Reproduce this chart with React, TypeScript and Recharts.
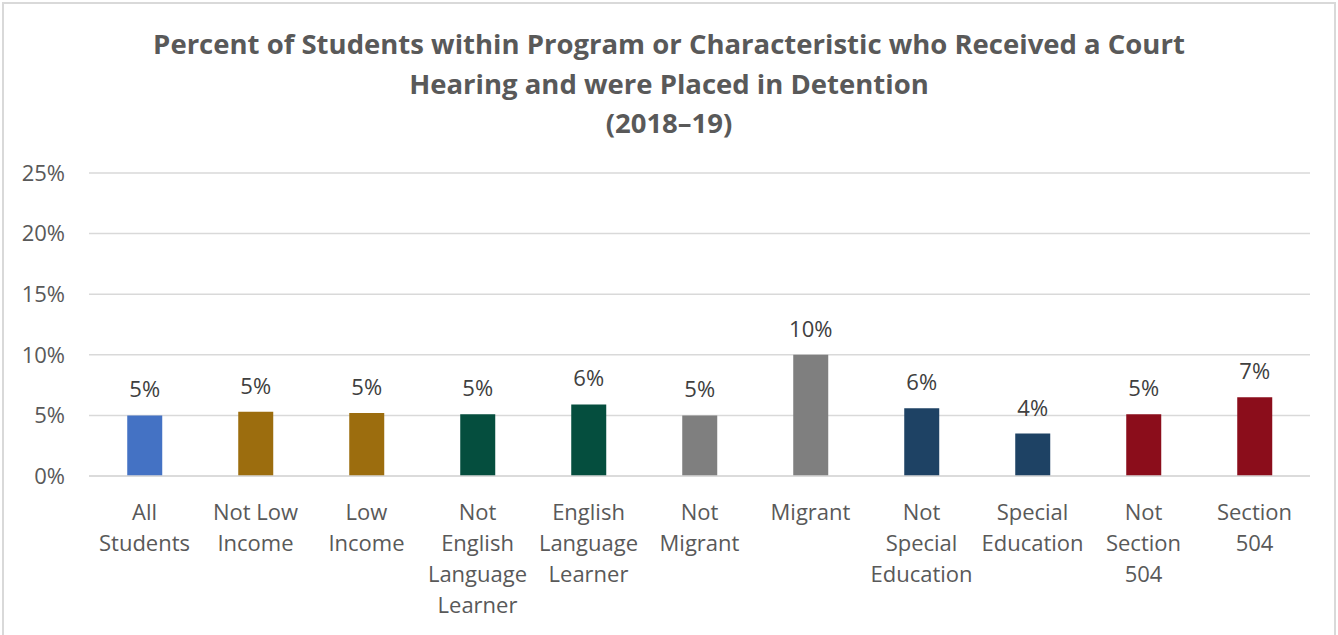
import { BarChart, Bar, XAxis, YAxis, CartesianGrid, LabelList, Cell } from 'recharts'

const categories = [
  'All Students', 'Not Low Income', 'Low Income', 'Not English Language Learner',
  'English Language Learner', 'Not Migrant', 'Migrant', 'Not Special Education',
  'Special Education', 'Not Section 504', 'Section 504',
]
const tickLines = [
  ['All', 'Students'], ['Not Low', 'Income'], ['Low', 'Income'],
  ['Not', 'English', 'Language', 'Learner'], ['English', 'Language', 'Learner'],
  ['Not', 'Migrant'], ['Migrant'], ['Not', 'Special', 'Education'],
  ['Special', 'Education'], ['Not', 'Section', '504'], ['Section', '504'],
]
const values = [5.0, 5.3, 5.2, 5.1, 5.9, 5.0, 10.0, 5.6, 3.5, 5.1, 6.5]
const barColors = [
  '#4472C4', '#9C6D0E', '#9C6D0E', '#054E3E', '#054E3E', '#7F7F7F',
  '#7F7F7F', '#1E4264', '#1E4264', '#8B0D1B', '#8B0D1B',
]
const yTicks = [0, 5, 10, 15, 20, 25]
const titleLines = [
  'Percent of Students within Program or Characteristic who Received a Court',
  'Hearing and were Placed in Detention',
  '(2018\u201319)',
]

const data = categories.map((name, i) => ({ name, value: values[i] }))

const FONT = "'Open Sans', 'Segoe UI', sans-serif"

const CategoryTick = ({ x, y, index }: { x?: number; y?: number; index?: number }) => {
  const lines = tickLines[index ?? 0]
  return (
    <text x={x} y={y} textAnchor="middle" fill="#595959" fontSize={22} fontFamily={FONT}>
      {lines.map((l, i) => (
        <tspan key={i} x={x} dy={i === 0 ? 36 : 31}>{l}</tspan>
      ))}
    </text>
  )
}

export default function App() {
  return (
    <div style={{ position: 'absolute', left: 0, top: 0, width: 1338, height: 635, background: '#fff', fontFamily: FONT }}>
      <div style={{
        position: 'absolute', left: 2, top: 2, width: 1334, height: 640,
        border: '2px solid #d9d9d9', boxSizing: 'border-box',
      }} />
      <div style={{
        position: 'absolute', left: 0, top: 24, width: 1338, textAlign: 'center',
        color: '#595959', fontWeight: 700, fontSize: 27.5, lineHeight: '39.5px',
      }}>
        {titleLines.map((t) => <div key={t}>{t}</div>)}
      </div>
      <div style={{ position: 'absolute', left: 0, top: 0 }}>
        <BarChart width={1338} height={635} data={data}
          margin={{ top: 173, right: 28, left: 0, bottom: 9 }} barCategoryGap="34%">
          <CartesianGrid stroke="#d9d9d9" strokeWidth={1.5} vertical={false} />
          <XAxis dataKey="name" interval={0} height={150} tickLine={false}
            axisLine={{ stroke: '#d9d9d9', strokeWidth: 1.5 }} tick={<CategoryTick />} />
          <YAxis domain={[0, 25]} ticks={yTicks} width={89} tickLine={false} axisLine={false}
            tickFormatter={(v: number) => `${v}%`}
            tick={{ fill: '#595959', fontSize: 22, fontFamily: FONT }} tickMargin={18} />
          <Bar dataKey="value" isAnimationActive={false} maxBarSize={35}>
            {data.map((d, i) => <Cell key={d.name} fill={barColors[i]} />)}
            <LabelList dataKey="value" position="top" offset={18} fill="#404040" fontSize={22}
              fontFamily={FONT} formatter={(v: any) => `${Math.round(Number(v))}%`} />
          </Bar>
        </BarChart>
      </div>
    </div>
  )
}
